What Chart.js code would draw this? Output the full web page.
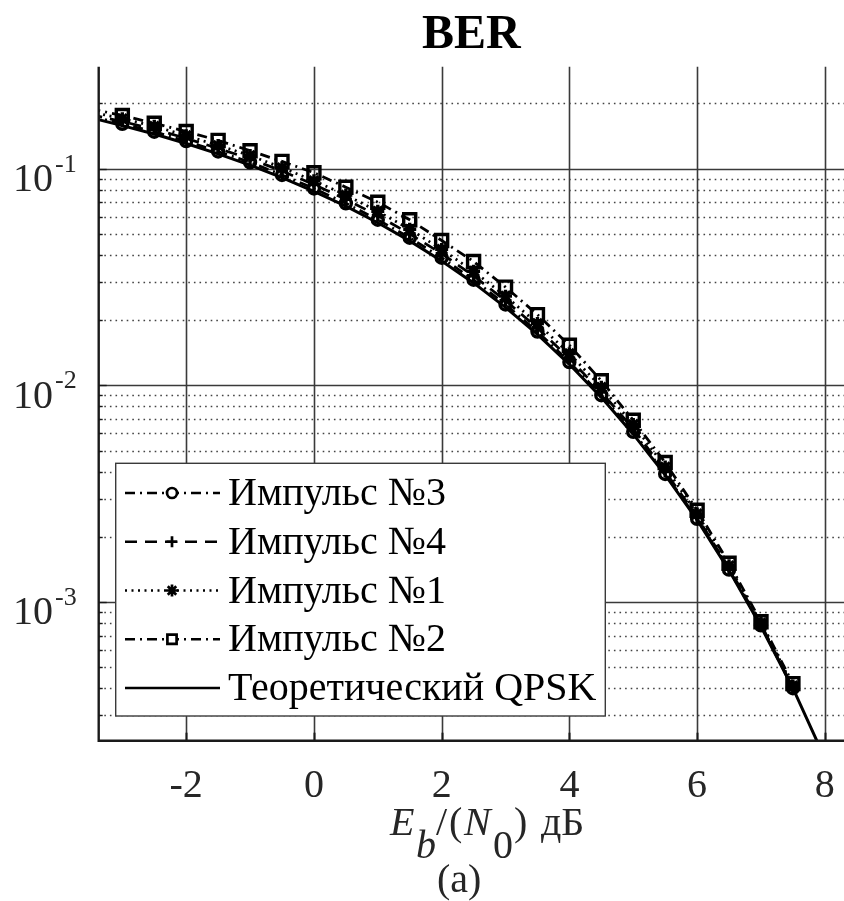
<!DOCTYPE html>
<html>
<head>
<meta charset="utf-8">
<title>BER</title>
<script src="https://cdn.jsdelivr.net/npm/chart.js@4.4.1/dist/chart.umd.min.js"></script>
<style>
    html, body { margin: 0; padding: 0; background: #fff; }
    #wrap { width: 844px; height: 901px; }
</style>
</head>
<body>
<div id="wrap"><canvas id="berChart" width="844" height="901"></canvas></div>
<script>
// Eb/N0, dB (first point sits left of the visible axis, line is clipped there)
const snrDb = [-3.5, -3, -2.5, -2, -1.5, -1, -0.5, 0, 0.5, 1, 1.5, 2, 2.5, 3, 3.5, 4, 4.5, 5, 5.5, 6, 6.5, 7, 7.5];
const snrTheoryDb = [-3.5, -3, -2.5, -2, -1.5, -1, -0.5, 0, 0.5, 1, 1.5, 2, 2.5, 3, 3.5, 4, 4.5, 5, 5.5, 6, 6.5, 7, 7.5, 8];

// BER values
const berPulse3 = [0.175, 0.161, 0.148, 0.134, 0.120, 0.107, 0.0935, 0.081, 0.0692, 0.0581, 0.0480, 0.0388, 0.0307, 0.0236, 0.0177, 0.0128, 0.0090, 0.0061, 0.0039, 0.00242, 0.00141, 0.00078, 0.00040];
const berPulse4 = [0.178, 0.165, 0.152, 0.138, 0.124, 0.111, 0.0975, 0.0845, 0.0722, 0.0607, 0.0500, 0.0405, 0.0320, 0.0246, 0.0184, 0.0133, 0.0093, 0.0063, 0.0040, 0.00247, 0.00143, 0.00079, 0.00040];
const berPulse1 = [0.183, 0.170, 0.157, 0.142, 0.128, 0.115, 0.101, 0.088, 0.0755, 0.0636, 0.0525, 0.0424, 0.0336, 0.0258, 0.0193, 0.0140, 0.0098, 0.0066, 0.0042, 0.00255, 0.00147, 0.00080, 0.00041];
const berPulse2 = [0.189, 0.176, 0.162, 0.1485, 0.135, 0.121, 0.108, 0.0958, 0.0821, 0.0700, 0.0581, 0.0466, 0.0373, 0.0284, 0.0212, 0.0153, 0.0105, 0.0069, 0.0044, 0.00265, 0.00151, 0.00081, 0.00042];
const berTheory = [0.172, 0.158, 0.1445, 0.1306, 0.117, 0.1038, 0.0909, 0.0786, 0.0671, 0.0563, 0.0464, 0.0375, 0.0297, 0.0229, 0.0172, 0.0125, 0.0088, 0.00595, 0.00386, 0.00239, 0.0014, 0.00077, 0.0004, 0.00019];

const seriesNames = ['Импульс №3', 'Импульс №4', 'Импульс №1', 'Импульс №2', 'Теоретический QPSK'];

// Axis
const xMin = -3.37, xMax = 8.3;
const yMin = 2.29e-4, yMax = 0.2955;
const yDecades = [1e-1, 1e-2, 1e-3];
const yDecadeExp = ['-1', '-2', '-3'];

const SERIF = '"Liberation Serif", "Times New Roman", serif';
const TEXT = '#262626';

const DASH_DOT = [10, 5, 2, 5];
const DASHED = [12, 8];
const DOTTED = [2, 4.5];

function toPoints(xs, ys) {
    return ys.map((v, i) => ({ x: xs[i], y: v }));
}

function series(label, ys, dash, style, radius, order) {
    return {
        label: label,
        data: toPoints(snrDb, ys),
        borderColor: '#000',
        borderWidth: 2.8,
        borderDash: dash,
        pointStyle: style,
        pointRadius: radius,
        pointBorderWidth: 3.4,
        pointBorderColor: '#000',
        pointBackgroundColor: 'rgba(0,0,0,0)',
        tension: 0,
        clip: 0,
        order: order
    };
}

const datasets = [
    series(seriesNames[0], berPulse3, DASH_DOT, 'circle', 5.5, 4),
    series(seriesNames[1], berPulse4, DASHED, 'cross', 6, 3),
    series(seriesNames[2], berPulse1, DOTTED, 'star', 6.5, 2),
    series(seriesNames[3], berPulse2, DASH_DOT, 'rect', 8.5, 1),
    {
        label: seriesNames[4],
        data: toPoints(snrTheoryDb, berTheory),
        borderColor: '#000',
        borderWidth: 3,
        pointRadius: 0,
        tension: 0,
        clip: 0,
        order: 0
    }
];

function isWhole(v) {
    const exp = Math.floor(Math.log10(v) + 1e-9);
    const sig = v / Math.pow(10, exp);
    return Math.abs(sig - Math.round(sig)) < 1e-6;
}

function isDecade(v) {
    return yDecades.some(d => Math.abs(d - v) / d < 1e-6);
}

// Grid in the style of MATLAB: solid majors, dotted minors
const gridPlugin = {
    id: 'matlabGrid',
    beforeDatasetsDraw(chart) {
        const { ctx, chartArea: a, scales: { x, y } } = chart;
        ctx.save();
        y.ticks.forEach(t => {
            if (!isWhole(t.value)) return;
            const py = Math.round(y.getPixelForValue(t.value)) + 0.5;
            if (py < a.top + 1 || py > a.bottom - 1) return;
            ctx.beginPath();
            if (isDecade(t.value)) {
                ctx.setLineDash([]);
                ctx.strokeStyle = '#3a3a3a';
                ctx.lineWidth = 1.6;
            } else {
                ctx.setLineDash([1.6, 4]);
                ctx.strokeStyle = '#444';
                ctx.lineWidth = 1.3;
            }
            ctx.moveTo(a.left, py);
            ctx.lineTo(a.right, py);
            ctx.stroke();
        });
        ctx.setLineDash([]);
        ctx.strokeStyle = '#3a3a3a';
        ctx.lineWidth = 1.6;
        x.ticks.forEach(t => {
            const px = Math.round(x.getPixelForValue(t.value)) + 0.5;
            ctx.beginPath();
            ctx.moveTo(px, a.top);
            ctx.lineTo(px, a.bottom);
            ctx.stroke();
        });
        ctx.restore();
    },
    afterDatasetsDraw(chart) {
        const { ctx, chartArea: a, scales: { x, y } } = chart;
        ctx.save();
        ctx.strokeStyle = '#1a1a1a';
        // inward ticks
        y.ticks.forEach(t => {
            if (!isWhole(t.value)) return;
            const py = Math.round(y.getPixelForValue(t.value)) + 0.5;
            if (py < a.top + 1 || py > a.bottom - 1) return;
            ctx.lineWidth = 1.4;
            ctx.beginPath();
            ctx.moveTo(a.left, py);
            ctx.lineTo(a.left + (isDecade(t.value) ? 8 : 4), py);
            ctx.stroke();
        });
        x.ticks.forEach(t => {
            const px = Math.round(x.getPixelForValue(t.value)) + 0.5;
            ctx.lineWidth = 2;
            ctx.beginPath();
            ctx.moveTo(px, a.bottom);
            ctx.lineTo(px, a.bottom - 8);
            ctx.stroke();
        });
        // axis lines
        ctx.lineWidth = 2.4;
        ctx.beginPath();
        ctx.moveTo(a.left, a.top);
        ctx.lineTo(a.left, a.bottom);
        ctx.lineTo(a.right, a.bottom);
        ctx.stroke();
        ctx.restore();
    }
};

// Title, tick labels, x label, legend
const textPlugin = {
    id: 'matlabText',
    afterDraw(chart) {
        const { ctx, chartArea: a, scales: { x, y } } = chart;
        ctx.save();
        ctx.fillStyle = '#000';
        ctx.textAlign = 'center';
        ctx.textBaseline = 'alphabetic';
        ctx.font = 'bold 48px ' + SERIF;
        ctx.fillText('BER', (a.left + a.right) / 2, 48);

        // x tick labels
        ctx.fillStyle = TEXT;
        ctx.font = '40px ' + SERIF;
        x.ticks.forEach(t => {
            ctx.fillText(String(t.value), x.getPixelForValue(t.value), 797);
        });

        // 10^k labels
        yDecades.forEach((d, i) => {
            const py = y.getPixelForValue(d);
            ctx.font = '40px ' + SERIF;
            ctx.textAlign = 'right';
            ctx.fillText('10', 53, py + 22.5);
            ctx.font = '26px ' + SERIF;
            ctx.textAlign = 'left';
            ctx.fillText(yDecadeExp[i], 55, py + 3);
        });

        // E_b/(N_0) дБ
        ctx.textAlign = 'left';
        const base = 835, sub = 858;
        const runs = [
            ['E', 'italic 40px ', 390, base],
            ['b', 'italic 40px ', 416, sub],
            ['/', '40px ', 436, base],
            ['(', '40px ', 449, base],
            ['N', 'italic 40px ', 464, base],
            ['0', '40px ', 493, sub],
            [')', '40px ', 514, base],
            ['дБ', '40px ', 541, base]
        ];
        runs.forEach(r => {
            ctx.font = r[1] + SERIF;
            ctx.fillText(r[0], r[2], r[3]);
        });
        ctx.font = '40px ' + SERIF;
        ctx.fillText('(a)', 437, 892);

        // legend
        const box = { left: 115.7, top: 463.3, right: 605.3, bottom: 716 };
        ctx.fillStyle = '#fff';
        ctx.fillRect(box.left, box.top, box.right - box.left, box.bottom - box.top);
        ctx.strokeStyle = '#3a3a3a';
        ctx.lineWidth = 1.4;
        ctx.strokeRect(box.left, box.top, box.right - box.left, box.bottom - box.top);

        chart.data.datasets.forEach((ds, i) => {
            const rowY = 493 + i * 48.75;
            ctx.strokeStyle = '#000';
            ctx.lineWidth = 2.7;
            ctx.setLineDash(ds.borderDash || []);
            ctx.beginPath();
            ctx.moveTo(125, rowY);
            ctx.lineTo(220, rowY);
            ctx.stroke();
            ctx.setLineDash([]);
            if (ds.pointRadius > 0) {
                ctx.fillStyle = '#fff';
                Chart.helpers.drawPoint(ctx, {
                    pointStyle: ds.pointStyle,
                    radius: ds.pointStyle === 'rect' ? 6.5 : ds.pointRadius - 0.5,
                    borderWidth: 2.8,
                    rotation: 0
                }, 172, rowY);
            }
            ctx.fillStyle = '#000';
            ctx.font = '40px ' + SERIF;
            ctx.fillText(ds.label, 228, rowY + 12);
        });
        ctx.restore();
    }
};

Chart.defaults.font.family = SERIF;

const ctx = document.getElementById('berChart').getContext('2d');
const berChart = new Chart(ctx, {
    type: 'line',
    data: { datasets: datasets },
    options: {
        responsive: false,
        animation: false,
        devicePixelRatio: 1,
        layout: {
            autoPadding: false,
            padding: { top: 66.7, right: 0, bottom: 0, left: 0 }
        },
        plugins: {
            legend: { display: false },
            title: { display: false },
            tooltip: { enabled: false }
        },
        scales: {
            x: {
                type: 'linear',
                min: xMin,
                max: xMax,
                afterFit(scale) { scale.height = 160.3; },
                grid: { display: false, drawTicks: false },
                border: { display: false },
                ticks: { display: false, stepSize: 2, includeBounds: false }
            },
            y: {
                type: 'logarithmic',
                min: yMin,
                max: yMax,
                afterFit(scale) { scale.width = 98.7; },
                grid: { display: false, drawTicks: false },
                border: { display: false },
                ticks: { display: false }
            }
        }
    },
    plugins: [gridPlugin, textPlugin]
});
</script>
</body>
</html>
